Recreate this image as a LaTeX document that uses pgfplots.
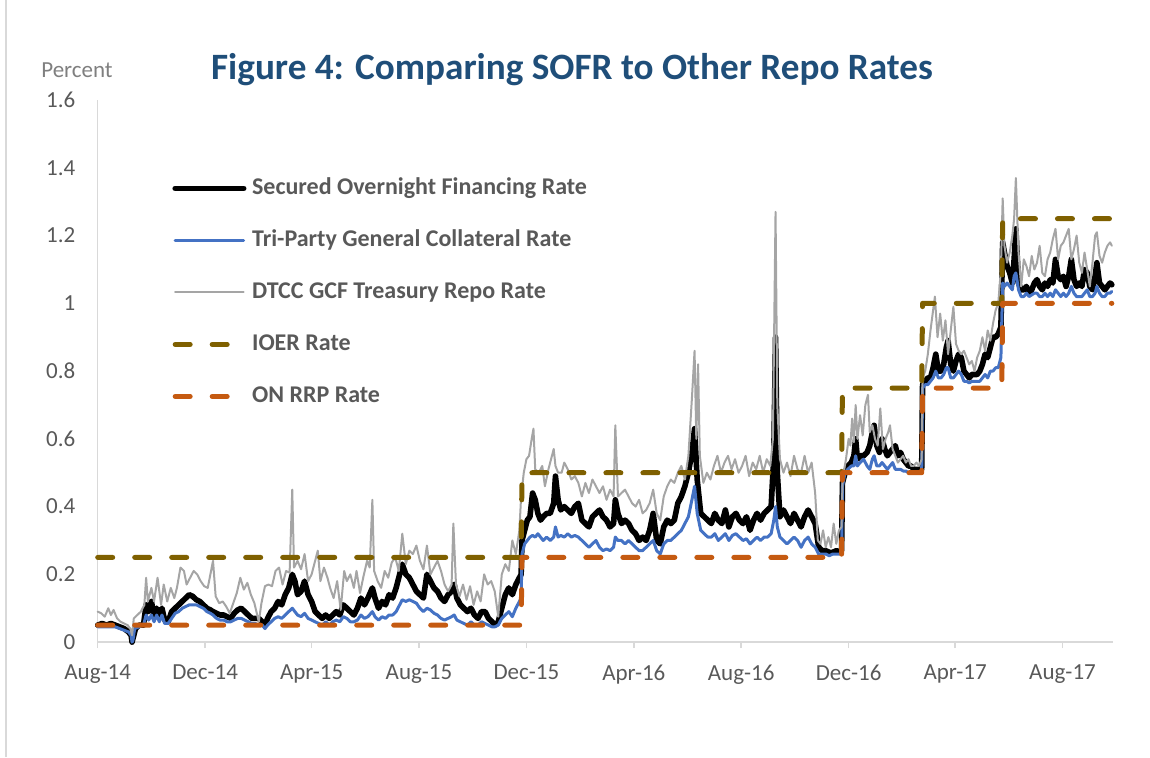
\documentclass[border=0pt]{standalone}
\usepackage{pgfplots}
\pgfplotsset{compat=1.18}
\usepackage{fontspec}
\setmainfont{Carlito}
\definecolor{ioer}{HTML}{7F6000}
\definecolor{rrp}{HTML}{C55A11}
\definecolor{tgcr}{HTML}{4472C4}
\definecolor{gcf}{HTML}{A5A5A5}
\definecolor{txt}{HTML}{595959}
\definecolor{ttl}{HTML}{1F4E79}
\definecolor{axl}{HTML}{D9D9D9}
\definecolor{pct}{HTML}{7F7F7F}
\begin{document}
\begin{tikzpicture}
\path[use as bounding box] (0,0) rectangle (575pt,378.5pt);
\draw[color=axl, line width=0.75pt] (3pt,0) -- (3pt,378.5pt);
\node[text=ttl, font=\bfseries\fontsize{18.6}{22}\selectfont] at (286pt,343.5pt) {Figure 4: Comparing SOFR to Other Repo Rates};
\node[text=pct, font=\fontsize{11.5}{14}\selectfont] at (38.5pt,343.5pt) {Percent};
\begin{axis}[
  at={(48.85pt,57.45pt)}, anchor=south west,
  scale only axis, width=507.5pt, height=271pt,
  xmin=0, xmax=1153, ymin=0, ymax=1.6,
  clip=false,
  axis x line*=bottom, axis y line*=left,
  axis line style={draw=axl, line width=0.75pt, -},
  xtick={0,122,243,365,487,609,731,853,974,1096},
  xticklabels={Aug-14,Dec-14,Apr-15,Aug-15,Dec-15,Apr-16,Aug-16,Dec-16,Apr-17,Aug-17},
  ytick={0,0.2,0.4,0.6,0.8,1,1.2,1.4,1.6},
  yticklabels={0,0.2,0.4,0.6,0.8,1,1.2,1.4,1.6},
  xtick align=outside, major tick length=3pt,
  xtick style={draw=axl, line width=0.75pt},
  ytick style={draw=none},
  tick label style={font=\fontsize{11.5}{14}\selectfont, text=txt},
  /pgf/number format/assume math mode=true,
  yticklabel style={inner sep=0pt, xshift=-11pt},
  xticklabel style={inner sep=0pt, yshift=-8pt},
  no markers,
  every axis plot/.append style={line cap=round, line join=round},
  legend style={at={(0.0732,0.86)}, anchor=north west, draw=none, fill=none,
    font=\bfseries\fontsize{12}{14}\selectfont, text=txt,
    row sep=14pt, column sep=2.8pt, inner sep=0pt,
    nodes={inner sep=0pt, text height=9pt, text depth=3pt}},
  legend cell align=left,
  legend image code/.code={\draw[#1] (1.25pt,0pt) -- (35.5pt,0pt);},
]
% Secured Overnight Financing Rate
\addplot[black, line width=2.8pt] table {
x y
0 0.05
5 0.055
10 0.05
15 0.055
20 0.05
25 0.045
30 0.04
35 0.03
38 0.02
39 0.0
40 0.01
43 0.04
47 0.05
52 0.05
55 0.11
58 0.09
61 0.12
64 0.08
67 0.1
70 0.08
73 0.1
76 0.065
80 0.06
84 0.09
88 0.1
92 0.11
96 0.12
100 0.13
104 0.14
108 0.135
112 0.125
116 0.12
120 0.11
124 0.1
128 0.095
131 0.09
135 0.085
139 0.08
143 0.08
147 0.075
151 0.07
155 0.085
159 0.095
163 0.1
167 0.09
171 0.08
175 0.07
179 0.07
183 0.07
187 0.06
190 0.05
193 0.07
197 0.09
201 0.1
205 0.12
209 0.11
213 0.14
217 0.16
221 0.2
224 0.18
227 0.14
231 0.15
235 0.18
239 0.14
243 0.12
247 0.09
251 0.08
255 0.07
259 0.08
263 0.07
267 0.08
271 0.09
275 0.08
279 0.11
283 0.1
287 0.09
291 0.08
295 0.1
299 0.13
303 0.11
307 0.13
312 0.16
315 0.13
319 0.1
323 0.12
327 0.11
331 0.14
335 0.13
339 0.16
343 0.2
346 0.23
350 0.2
354 0.19
358 0.17
362 0.15
366 0.14
370 0.13
374 0.2
378 0.18
382 0.16
386 0.15
390 0.13
394 0.12
398 0.14
402 0.15
405 0.17
408 0.13
412 0.11
416 0.1
420 0.09
424 0.1
428 0.08
432 0.07
436 0.09
440 0.09
444 0.07
448 0.06
451 0.05
455 0.06
459 0.1
463 0.14
467 0.16
471 0.14
475 0.17
479 0.19
481 0.2
482 0.3
485 0.33
488 0.36
491 0.37
494 0.44
497 0.42
500 0.38
503 0.36
506 0.37
510 0.38
514 0.38
518 0.41
520 0.49
523 0.42
526 0.39
530 0.4
534 0.39
538 0.38
542 0.4
546 0.41
550 0.36
554 0.35
558 0.34
562 0.37
566 0.38
570 0.39
574 0.37
578 0.36
582 0.34
586 0.35
588 0.42
591 0.38
595 0.35
599 0.36
603 0.35
607 0.33
611 0.32
615 0.3
619 0.31
623 0.3
627 0.33
631 0.38
635 0.3
639 0.29
643 0.34
647 0.36
651 0.35
655 0.36
659 0.41
663 0.43
667 0.46
671 0.5
675 0.56
678 0.63
681 0.48
685 0.38
689 0.37
693 0.36
697 0.35
701 0.38
705 0.36
709 0.35
713 0.39
717 0.34
721 0.37
725 0.38
729 0.36
733 0.35
737 0.37
741 0.33
745 0.36
749 0.38
753 0.36
757 0.38
761 0.39
765 0.4
768 0.55
770 0.9
772 0.5
775 0.37
779 0.39
783 0.37
787 0.35
791 0.38
795 0.36
799 0.34
803 0.37
807 0.39
811 0.37
815 0.35
819 0.28
823 0.27
827 0.27
831 0.265
835 0.265
839 0.27
843 0.265
845 0.27
846 0.47
849 0.5
852 0.52
856 0.53
859 0.55
861 0.6
863 0.54
866 0.55
870 0.55
874 0.56
877 0.58
880 0.62
882 0.64
885 0.58
888 0.56
891 0.6
894 0.57
897 0.55
900 0.56
903 0.57
906 0.58
909 0.55
912 0.56
915 0.54
918 0.53
921 0.52
924 0.52
927 0.51
930 0.51
933 0.51
936 0.51
937 0.76
940 0.77
943 0.78
946 0.78
949 0.81
952 0.85
955 0.8
958 0.8
961 0.82
964 0.87
966 0.89
969 0.82
972 0.8
975 0.83
978 0.85
981 0.84
984 0.8
987 0.79
990 0.78
993 0.79
996 0.79
999 0.79
1002 0.8
1005 0.82
1008 0.85
1011 0.84
1014 0.87
1017 0.9
1020 0.9
1023 0.91
1026 0.93
1028 1.18
1030 1.15
1033 1.11
1036 1.09
1039 1.06
1041 1.13
1043 1.22
1046 1.06
1049 1.04
1052 1.04
1055 1.05
1058 1.03
1061 1.04
1064 1.06
1067 1.07
1070 1.05
1073 1.04
1076 1.06
1079 1.05
1082 1.07
1085 1.06
1088 1.13
1091 1.08
1094 1.07
1097 1.08
1100 1.05
1103 1.08
1106 1.13
1109 1.07
1112 1.05
1115 1.06
1118 1.05
1121 1.1
1124 1.09
1127 1.05
1130 1.04
1133 1.08
1135 1.12
1138 1.06
1141 1.05
1144 1.04
1147 1.05
1150 1.06
1152 1.055
};
\addlegendentry{Secured Overnight Financing Rate}
% Tri-Party General Collateral Rate
\addplot[tgcr, line width=1.5pt] table {
x y
0 0.045
10 0.045
20 0.045
25 0.04
30 0.035
35 0.03
38 0.02
39 0.0
40 0.005
42 0.04
47 0.045
52 0.05
55 0.08
58 0.065
61 0.08
64 0.06
67 0.08
70 0.06
73 0.08
76 0.055
80 0.055
84 0.07
88 0.085
92 0.09
96 0.1
100 0.105
104 0.11
108 0.11
112 0.11
116 0.105
120 0.1
124 0.09
128 0.085
131 0.08
135 0.07
139 0.065
143 0.065
147 0.06
151 0.06
155 0.065
159 0.07
163 0.07
167 0.065
171 0.06
175 0.055
179 0.055
183 0.05
187 0.05
190 0.04
193 0.05
197 0.06
201 0.07
205 0.075
209 0.07
213 0.08
217 0.09
221 0.1
224 0.09
227 0.08
231 0.075
235 0.085
239 0.07
243 0.065
247 0.06
251 0.055
255 0.05
259 0.06
263 0.05
267 0.06
271 0.065
275 0.06
279 0.075
283 0.07
287 0.06
291 0.06
295 0.065
299 0.08
303 0.07
307 0.075
312 0.09
315 0.075
319 0.065
323 0.075
327 0.07
331 0.08
335 0.08
339 0.09
343 0.11
346 0.125
350 0.12
354 0.125
358 0.12
362 0.115
366 0.1
370 0.09
374 0.1
378 0.095
382 0.085
386 0.08
390 0.07
394 0.065
398 0.07
402 0.075
405 0.08
408 0.065
412 0.06
416 0.055
420 0.05
424 0.06
428 0.05
432 0.05
436 0.06
440 0.055
444 0.05
448 0.045
451 0.045
455 0.05
459 0.07
463 0.08
467 0.09
471 0.075
475 0.1
479 0.12
481 0.13
482 0.26
485 0.29
488 0.3
491 0.31
494 0.315
497 0.31
500 0.32
503 0.31
506 0.3
510 0.31
514 0.3
518 0.31
520 0.34
523 0.31
526 0.315
530 0.31
534 0.32
538 0.31
542 0.315
546 0.31
550 0.3
554 0.29
558 0.28
562 0.29
566 0.3
570 0.28
574 0.27
578 0.275
582 0.27
586 0.28
588 0.31
591 0.3
595 0.3
599 0.29
603 0.3
607 0.29
611 0.28
615 0.27
619 0.27
623 0.28
627 0.29
631 0.3
635 0.27
639 0.26
643 0.29
647 0.3
651 0.3
655 0.31
659 0.32
663 0.33
667 0.35
671 0.37
675 0.42
678 0.46
681 0.38
685 0.33
689 0.32
693 0.31
697 0.31
701 0.32
705 0.3
709 0.31
713 0.32
717 0.3
721 0.315
725 0.32
729 0.31
733 0.3
737 0.305
741 0.29
745 0.3
749 0.31
753 0.3
757 0.31
761 0.31
765 0.32
768 0.36
770 0.4
772 0.34
775 0.31
779 0.3
783 0.29
787 0.3
791 0.31
795 0.3
799 0.28
803 0.3
807 0.31
811 0.29
815 0.28
819 0.26
823 0.26
827 0.26
831 0.255
835 0.26
839 0.26
843 0.26
845 0.26
846 0.46
849 0.5
852 0.51
856 0.52
859 0.52
861 0.55
863 0.52
866 0.53
870 0.54
874 0.52
877 0.51
880 0.54
882 0.55
885 0.52
888 0.52
891 0.53
894 0.52
897 0.51
900 0.52
903 0.53
906 0.51
909 0.51
912 0.51
915 0.505
918 0.505
921 0.5
924 0.5
927 0.5
930 0.5
933 0.5
936 0.5
937 0.75
940 0.76
943 0.76
946 0.77
949 0.78
952 0.8
955 0.78
958 0.78
961 0.79
964 0.81
966 0.81
969 0.78
972 0.78
975 0.79
978 0.8
981 0.79
984 0.77
987 0.77
990 0.765
993 0.77
996 0.77
999 0.77
1002 0.77
1005 0.78
1008 0.79
1011 0.78
1014 0.8
1017 0.8
1020 0.81
1023 0.81
1026 0.84
1028 1.06
1030 1.05
1033 1.06
1036 1.05
1039 1.04
1041 1.08
1043 1.09
1046 1.04
1049 1.02
1052 1.02
1055 1.03
1058 1.02
1061 1.025
1064 1.03
1067 1.03
1070 1.02
1073 1.02
1076 1.03
1079 1.02
1082 1.03
1085 1.02
1088 1.04
1091 1.03
1094 1.02
1097 1.03
1100 1.02
1103 1.03
1106 1.05
1109 1.03
1112 1.02
1115 1.02
1118 1.02
1121 1.03
1124 1.04
1127 1.02
1130 1.02
1133 1.03
1135 1.05
1138 1.03
1141 1.02
1144 1.02
1147 1.03
1150 1.03
1152 1.035
};
\addlegendentry{Tri-Party General Collateral Rate}
% DTCC GCF Treasury Repo Rate
\addplot[gcf, line width=1pt] table {
x y
0 0.09
4 0.085
8 0.075
12 0.1
15 0.08
18 0.095
22 0.07
26 0.06
30 0.055
34 0.05
37 0.04
39 0.02
41 0.07
45 0.08
49 0.09
53 0.11
55 0.19
57 0.12
61 0.16
64 0.12
68 0.19
72 0.11
75 0.17
79 0.12
83 0.16
87 0.13
90 0.16
94 0.22
98 0.21
101 0.17
105 0.19
109 0.21
113 0.2
117 0.18
121 0.165
125 0.16
131 0.24
134 0.135
138 0.115
142 0.12
146 0.105
150 0.085
154 0.115
158 0.145
162 0.19
166 0.155
170 0.175
174 0.14
178 0.115
183 0.06
186 0.115
190 0.165
194 0.17
198 0.165
202 0.21
206 0.22
210 0.17
214 0.21
218 0.205
221 0.45
223 0.22
227 0.24
231 0.215
235 0.26
239 0.18
243 0.2
246 0.23
250 0.27
253 0.18
257 0.22
261 0.19
264 0.16
268 0.13
272 0.18
276 0.095
280 0.21
283 0.18
287 0.2
291 0.16
294 0.21
298 0.145
302 0.195
306 0.24
309 0.22
312 0.42
314 0.21
318 0.18
322 0.16
326 0.21
330 0.19
334 0.235
338 0.25
342 0.21
346 0.32
350 0.23
354 0.27
358 0.26
362 0.285
366 0.24
370 0.215
374 0.285
378 0.2
382 0.22
386 0.24
390 0.21
394 0.17
398 0.15
402 0.17
404 0.35
407 0.17
411 0.135
415 0.17
419 0.125
423 0.165
427 0.11
431 0.15
435 0.12
439 0.2
443 0.17
447 0.18
451 0.15
455 0.075
459 0.2
463 0.23
467 0.21
471 0.3
475 0.26
479 0.33
481 0.43
484 0.5
487 0.54
490 0.55
493 0.6
495 0.63
497 0.51
501 0.5
505 0.52
508 0.46
512 0.51
515 0.54
518 0.57
520 0.52
523 0.5
527 0.5
530 0.53
534 0.51
538 0.48
542 0.49
546 0.47
550 0.43
554 0.47
558 0.44
562 0.48
566 0.46
570 0.44
574 0.46
578 0.42
582 0.45
586 0.43
588 0.64
591 0.43
595 0.44
599 0.45
603 0.43
607 0.41
611 0.4
615 0.42
619 0.38
623 0.39
627 0.41
631 0.45
635 0.38
639 0.36
643 0.43
647 0.46
651 0.48
655 0.47
659 0.5
663 0.52
667 0.48
671 0.55
675 0.72
678 0.86
680 0.6
682 0.82
684 0.55
688 0.47
692 0.5
696 0.48
700 0.52
704 0.55
708 0.5
712 0.53
716 0.55
720 0.51
724 0.54
728 0.5
732 0.52
736 0.55
740 0.49
744 0.53
748 0.51
752 0.55
756 0.5
760 0.54
764 0.52
767 0.6
770 1.27
772 0.7
775 0.54
779 0.5
783 0.53
787 0.49
791 0.55
795 0.51
799 0.5
803 0.55
807 0.5
811 0.53
815 0.44
818 0.3
821 0.29
824 0.33
827 0.28
830 0.31
833 0.28
836 0.35
839 0.29
842 0.33
845 0.34
846 0.47
848 0.51
850 0.54
853 0.6
855 0.58
857 0.66
859 0.59
861 0.7
863 0.6
866 0.67
869 0.61
872 0.7
875 0.73
877 0.62
880 0.64
883 0.6
886 0.58
889 0.69
892 0.57
895 0.6
898 0.62
900 0.64
903 0.57
906 0.55
909 0.53
912 0.54
915 0.55
918 0.53
921 0.54
924 0.52
927 0.52
930 0.53
933 0.52
936 0.54
937 0.78
940 0.8
943 0.85
946 0.92
949 0.98
951 1.02
954 0.9
957 0.97
960 0.89
963 0.95
966 0.85
969 0.92
972 0.99
975 0.88
978 0.86
981 0.85
984 0.86
987 0.84
990 0.82
993 0.83
996 0.8
999 0.84
1002 0.86
1005 0.9
1008 0.86
1011 0.92
1014 0.89
1017 0.94
1020 0.98
1023 1.0
1026 1.1
1028 1.31
1030 1.17
1033 1.12
1036 1.15
1039 1.2
1041 1.25
1043 1.37
1046 1.15
1049 1.05
1052 1.13
1055 1.11
1058 1.08
1061 1.14
1064 1.1
1067 1.12
1070 1.17
1073 1.09
1076 1.08
1079 1.13
1082 1.15
1085 1.19
1088 1.22
1091 1.13
1094 1.17
1097 1.18
1100 1.2
1103 1.22
1106 1.13
1109 1.16
1112 1.2
1115 1.12
1118 1.09
1121 1.15
1124 1.1
1127 1.05
1130 1.12
1133 1.2
1135 1.21
1138 1.14
1141 1.12
1144 1.15
1147 1.17
1150 1.18
1152 1.17
};
\addlegendentry{DTCC GCF Treasury Repo Rate}
% IOER
\addplot[ioer, line width=2.5pt, dash pattern=on 7.5pt off 11pt] table {
x y
0 0.25
481 0.25
482 0.5
845 0.5
846 0.75
936 0.75
937 1.0
1027 1.0
1028 1.25
1152 1.25
};
\addlegendentry{IOER Rate}
% ON RRP
\addplot[rrp, line width=2.5pt, dash pattern=on 7.5pt off 11pt] table {
x y
0 0.05
481 0.05
482 0.25
845 0.25
846 0.5
936 0.5
937 0.75
1027 0.75
1028 1.0
1152 1.0
};
\addlegendentry{ON RRP Rate}
\end{axis}
\end{tikzpicture}
\end{document}
